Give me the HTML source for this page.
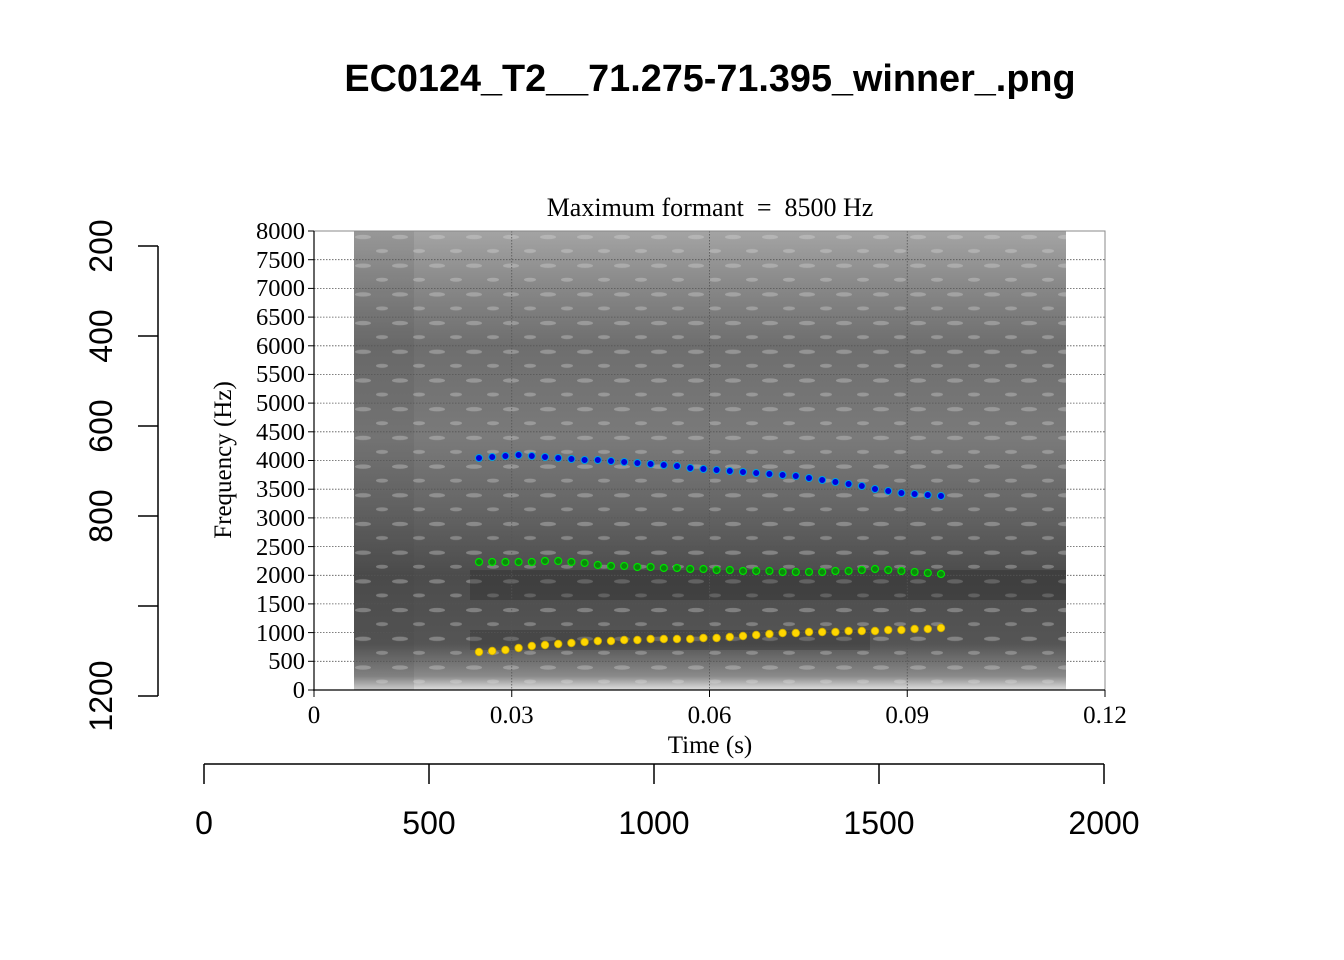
<!DOCTYPE html>
<html><head><meta charset="utf-8"><style>
html,body{margin:0;padding:0;background:#fff;}
svg{display:block;}
</style></head><body>
<svg width="1344" height="960" viewBox="0 0 1344 960" xmlns="http://www.w3.org/2000/svg">
<defs>
<linearGradient id="bg" x1="0" y1="0" x2="0" y2="1">
<stop offset="0" stop-color="#a4a4a4"/>
<stop offset="0.12" stop-color="#888"/>
<stop offset="0.25" stop-color="#6e6e6e"/>
<stop offset="0.45" stop-color="#7a7a7a"/>
<stop offset="0.6" stop-color="#666"/>
<stop offset="0.75" stop-color="#4c4c4c"/>
<stop offset="0.9" stop-color="#555"/>
<stop offset="0.97" stop-color="#8a8a8a"/>
<stop offset="1" stop-color="#e0e0e0"/>
</linearGradient>
<pattern id="dots" width="37" height="28.7" patternUnits="userSpaceOnUse" x="354" y="231">
<ellipse cx="9" cy="6" rx="8" ry="2.2" fill="#d8d8d8" opacity="0.35"/>
<ellipse cx="28" cy="20" rx="6" ry="2" fill="#e8e8e8" opacity="0.3"/>
</pattern>
<marker id="my" markerUnits="userSpaceOnUse" markerWidth="10" markerHeight="10" refX="5" refY="5"><circle cx="5" cy="5" r="3.8" fill="#ffd700" stroke="#c8a800" stroke-width="0.8"/></marker>
<marker id="mg" markerUnits="userSpaceOnUse" markerWidth="10" markerHeight="10" refX="5" refY="5"><circle cx="5" cy="5" r="3.5" fill="#0a8a0a" stroke="#00e000" stroke-width="1.2"/></marker>
<marker id="mb" markerUnits="userSpaceOnUse" markerWidth="10" markerHeight="10" refX="5" refY="5"><circle cx="5" cy="5" r="3.5" fill="#0000e0" stroke="#00a0e0" stroke-width="1"/></marker>
</defs>
<text x="710" y="91" font-family="Liberation Sans, sans-serif" font-weight="bold" font-size="37.8" text-anchor="middle">EC0124_T2__71.275-71.395_winner_.png</text>

<rect x="354" y="231" width="712" height="459" fill="url(#bg)"/>
<rect x="354" y="231" width="60" height="459" fill="#404040" opacity="0.12"/>
<rect x="354" y="231" width="712" height="459" fill="url(#dots)"/>
<rect x="470" y="570" width="596" height="30" fill="#202020" opacity="0.3"/>
<rect x="470" y="630" width="400" height="20" fill="#202020" opacity="0.25"/>

<g stroke="#555" stroke-width="0.8" stroke-dasharray="1.5,1.5">
<line x1="511.75" y1="231" x2="511.75" y2="690"/><line x1="709.5" y1="231" x2="709.5" y2="690"/><line x1="907.25" y1="231" x2="907.25" y2="690"/>
<line x1="314" x2="1105" y1="259.7" y2="259.7"/><line x1="314" x2="1105" y1="288.4" y2="288.4"/><line x1="314" x2="1105" y1="317.1" y2="317.1"/><line x1="314" x2="1105" y1="345.8" y2="345.8"/><line x1="314" x2="1105" y1="374.4" y2="374.4"/><line x1="314" x2="1105" y1="403.1" y2="403.1"/><line x1="314" x2="1105" y1="431.8" y2="431.8"/><line x1="314" x2="1105" y1="460.5" y2="460.5"/><line x1="314" x2="1105" y1="489.2" y2="489.2"/><line x1="314" x2="1105" y1="517.9" y2="517.9"/><line x1="314" x2="1105" y1="546.6" y2="546.6"/><line x1="314" x2="1105" y1="575.3" y2="575.3"/><line x1="314" x2="1105" y1="603.9" y2="603.9"/><line x1="314" x2="1105" y1="632.6" y2="632.6"/><line x1="314" x2="1105" y1="661.3" y2="661.3"/>
</g>
<rect x="314" y="231" width="791" height="459" fill="none" stroke="#888" stroke-width="1"/>
<line x1="314" y1="231" x2="314" y2="691" stroke="#000" stroke-width="1.2"/>
<line x1="313" y1="690" x2="1105" y2="690" stroke="#000" stroke-width="1.2"/>

<polyline fill="none" stroke="none" marker-start="url(#my)" marker-mid="url(#my)" marker-end="url(#my)" points="479,652 492.2,651 505.4,650 518.6,648 531.8,646 545,645 558.2,644 571.4,643 584.6,642 597.8,641 611,641 624.2,640 637.4,640 650.6,639 663.8,639 677,639 690.2,639 703.4,638 716.6,638 729.8,637 743,636 756.2,635 769.4,634 782.6,633 795.8,633 809,632 822.2,632 835.4,632 848.6,631 861.8,631 875,631 888.2,630 901.4,630 914.6,629 927.8,629 941,628"/>
<polyline fill="none" stroke="none" marker-start="url(#mg)" marker-mid="url(#mg)" marker-end="url(#mg)" points="479,562 492.2,562 505.4,562 518.6,562 531.8,562 545,561 558.2,561 571.4,562 584.6,563 597.8,565 611,566 624.2,566 637.4,567 650.6,567 663.8,568 677,568 690.2,569 703.4,569 716.6,570 729.8,570 743,571 756.2,571 769.4,571 782.6,572 795.8,572 809,572 822.2,572 835.4,571 848.6,571 861.8,570 875,569 888.2,570 901.4,571 914.6,572 927.8,573 941,574"/>
<polyline fill="none" stroke="none" marker-start="url(#mb)" marker-mid="url(#mb)" marker-end="url(#mb)" points="479,458 492.2,457 505.4,456 518.6,455 531.8,456 545,457 558.2,458 571.4,459 584.6,460 597.8,460 611,461 624.2,462 637.4,463 650.6,464 663.8,465 677,466 690.2,468 703.4,469 716.6,470 729.8,471 743,472 756.2,473 769.4,474 782.6,475 795.8,476 809,478 822.2,480 835.4,482 848.6,484 861.8,486 875,489 888.2,491 901.4,493 914.6,494 927.8,495 941,496"/>

<g font-family="Liberation Serif, serif" font-size="25" fill="#000">
<text x="710" y="216" text-anchor="middle" font-size="26" xml:space="preserve" style="white-space:pre">Maximum formant  =  8500 Hz</text>
<text x="710" y="753" text-anchor="middle">Time (s)</text>
<text transform="translate(231,460) rotate(-90)" text-anchor="middle">Frequency (Hz)</text>
</g>
<g font-family="Liberation Serif, serif" font-size="24.5" fill="#000" text-anchor="end">
<text x="305" y="239">8000</text><text x="305" y="268">7500</text><text x="305" y="296">7000</text><text x="305" y="325">6500</text><text x="305" y="354">6000</text><text x="305" y="382">5500</text><text x="305" y="411">5000</text><text x="305" y="440">4500</text><text x="305" y="468">4000</text><text x="305" y="497">3500</text><text x="305" y="526">3000</text><text x="305" y="555">2500</text><text x="305" y="583">2000</text><text x="305" y="612">1500</text><text x="305" y="641">1000</text><text x="305" y="669">500</text><text x="305" y="698">0</text>
</g>
<g stroke="#000" stroke-width="1">
<line x1="308" x2="314" y1="231" y2="231"/><line x1="308" x2="314" y1="259.7" y2="259.7"/><line x1="308" x2="314" y1="288.4" y2="288.4"/><line x1="308" x2="314" y1="317.1" y2="317.1"/><line x1="308" x2="314" y1="345.8" y2="345.8"/><line x1="308" x2="314" y1="374.4" y2="374.4"/><line x1="308" x2="314" y1="403.1" y2="403.1"/><line x1="308" x2="314" y1="431.8" y2="431.8"/><line x1="308" x2="314" y1="460.5" y2="460.5"/><line x1="308" x2="314" y1="489.2" y2="489.2"/><line x1="308" x2="314" y1="517.9" y2="517.9"/><line x1="308" x2="314" y1="546.6" y2="546.6"/><line x1="308" x2="314" y1="575.3" y2="575.3"/><line x1="308" x2="314" y1="603.9" y2="603.9"/><line x1="308" x2="314" y1="632.6" y2="632.6"/><line x1="308" x2="314" y1="661.3" y2="661.3"/><line x1="308" x2="314" y1="690" y2="690"/>
<line x1="314" x2="314" y1="690" y2="697"/><line x1="511.75" x2="511.75" y1="690" y2="697"/><line x1="709.5" x2="709.5" y1="690" y2="697"/><line x1="907.25" x2="907.25" y1="690" y2="697"/><line x1="1105" x2="1105" y1="690" y2="697"/>
</g>
<g font-family="Liberation Serif, serif" font-size="25" fill="#000" text-anchor="middle">
<text x="314" y="723">0</text><text x="511.75" y="723">0.03</text><text x="709.5" y="723">0.06</text><text x="907.25" y="723">0.09</text><text x="1105" y="723">0.12</text>
</g>

<g stroke="#000" stroke-width="1.5" fill="none">
<line x1="158" y1="246" x2="158" y2="696"/>
<line x1="138" x2="158" y1="246" y2="246"/><line x1="138" x2="158" y1="336" y2="336"/><line x1="138" x2="158" y1="426" y2="426"/><line x1="138" x2="158" y1="516" y2="516"/><line x1="138" x2="158" y1="606" y2="606"/><line x1="138" x2="158" y1="696" y2="696"/>
<line x1="204" y1="764" x2="1104" y2="764"/>
<line x1="204" x2="204" y1="764" y2="784"/><line x1="429" x2="429" y1="764" y2="784"/><line x1="654" x2="654" y1="764" y2="784"/><line x1="879" x2="879" y1="764" y2="784"/><line x1="1104" x2="1104" y1="764" y2="784"/>
</g>
<g font-family="Liberation Sans, sans-serif" font-size="32" fill="#000" text-anchor="middle">
<text transform="translate(112,246) rotate(-90)">200</text>
<text transform="translate(112,336) rotate(-90)">400</text>
<text transform="translate(112,426) rotate(-90)">600</text>
<text transform="translate(112,516) rotate(-90)">800</text>
<text transform="translate(112,696) rotate(-90)">1200</text>
<text x="204" y="834">0</text><text x="429" y="834">500</text><text x="654" y="834">1000</text><text x="879" y="834">1500</text><text x="1104" y="834">2000</text>
</g>
</svg>
</body></html>
